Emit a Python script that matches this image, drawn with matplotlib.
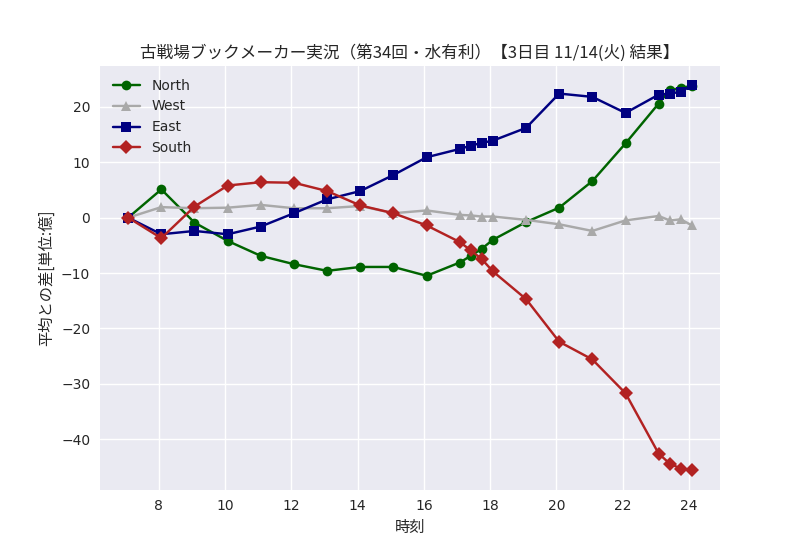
"""
Bookmaker standings chart: difference from average per team over the day.
"""

import matplotlib
matplotlib.use("Agg")
import matplotlib.pyplot as plt
from matplotlib.ticker import MultipleLocator

# times (hour + minutes/60), polled at :05, extra polls at :25/:45 around 17 and 23
hours = [7 + 5 / 60, 8 + 5 / 60, 9 + 5 / 60, 10 + 5 / 60, 11 + 5 / 60, 12 + 5 / 60,
         13 + 5 / 60, 14 + 5 / 60, 15 + 5 / 60, 16 + 5 / 60, 17 + 5 / 60, 17 + 25 / 60,
         17 + 45 / 60, 18 + 5 / 60, 19 + 5 / 60, 20 + 5 / 60, 21 + 5 / 60, 22 + 5 / 60,
         23 + 5 / 60, 23 + 25 / 60, 23 + 45 / 60, 24 + 5 / 60]

north = [0.0, 5.1, -0.9, -4.2, -6.9, -8.4, -9.6, -8.9, -8.9, -10.5, -8.1, -6.9,
         -5.6, -4.0, -0.8, 1.8, 6.6, 13.4, 20.6, 23.0, 23.4, 23.8]
west = [0.0, 1.9, 1.7, 1.8, 2.3, 1.7, 1.7, 2.1, 0.8, 1.3, 0.5, 0.4,
        0.2, 0.2, -0.4, -1.2, -2.4, -0.5, 0.3, -0.5, -0.3, -1.4]
east = [0.0, -3.0, -2.4, -3.0, -1.6, 0.8, 3.3, 4.8, 7.7, 10.9, 12.4, 13.0,
        13.5, 13.9, 16.2, 22.4, 21.8, 18.9, 22.2, 22.4, 22.7, 23.9]
south = [0.0, -3.7, 2.0, 5.8, 6.4, 6.3, 4.8, 2.2, 0.8, -1.4, -4.4, -5.9,
         -7.5, -9.7, -14.7, -22.4, -25.6, -31.7, -42.6, -44.4, -45.3, -45.6]

plt.style.use("seaborn-v0_8")
plt.rcParams["font.family"] = ["DejaVu Sans", "Noto Sans CJK JP"]
jp = ["Noto Sans CJK JP", "DejaVu Sans"]

fig, ax = plt.subplots(figsize=(8, 5.5), dpi=100)

style = dict(linewidth=1.75, markersize=7)
ax.plot(hours, north, color="darkgreen", marker="o", label="North", **style)
ax.plot(hours, west, color="darkgray", marker="^", label="West", **style)
ax.plot(hours, east, color="navy", marker="s", label="East", **style)
ax.plot(hours, south, color="firebrick", marker="D", label="South", **style)

ax.xaxis.set_major_locator(MultipleLocator(2))

ax.set_title("古戦場ブックメーカー実況（第34回・水有利）【3日目 11/14(火) 結果】",
             family=jp, fontsize=12)
ax.set_xlabel("時刻", family=jp, fontsize=11)
ax.set_ylabel("平均との差[単位:億]", family=jp, fontsize=11)
ax.legend(loc="upper left")

fig.savefig("out.png", dpi=100)
plt.close(fig)
